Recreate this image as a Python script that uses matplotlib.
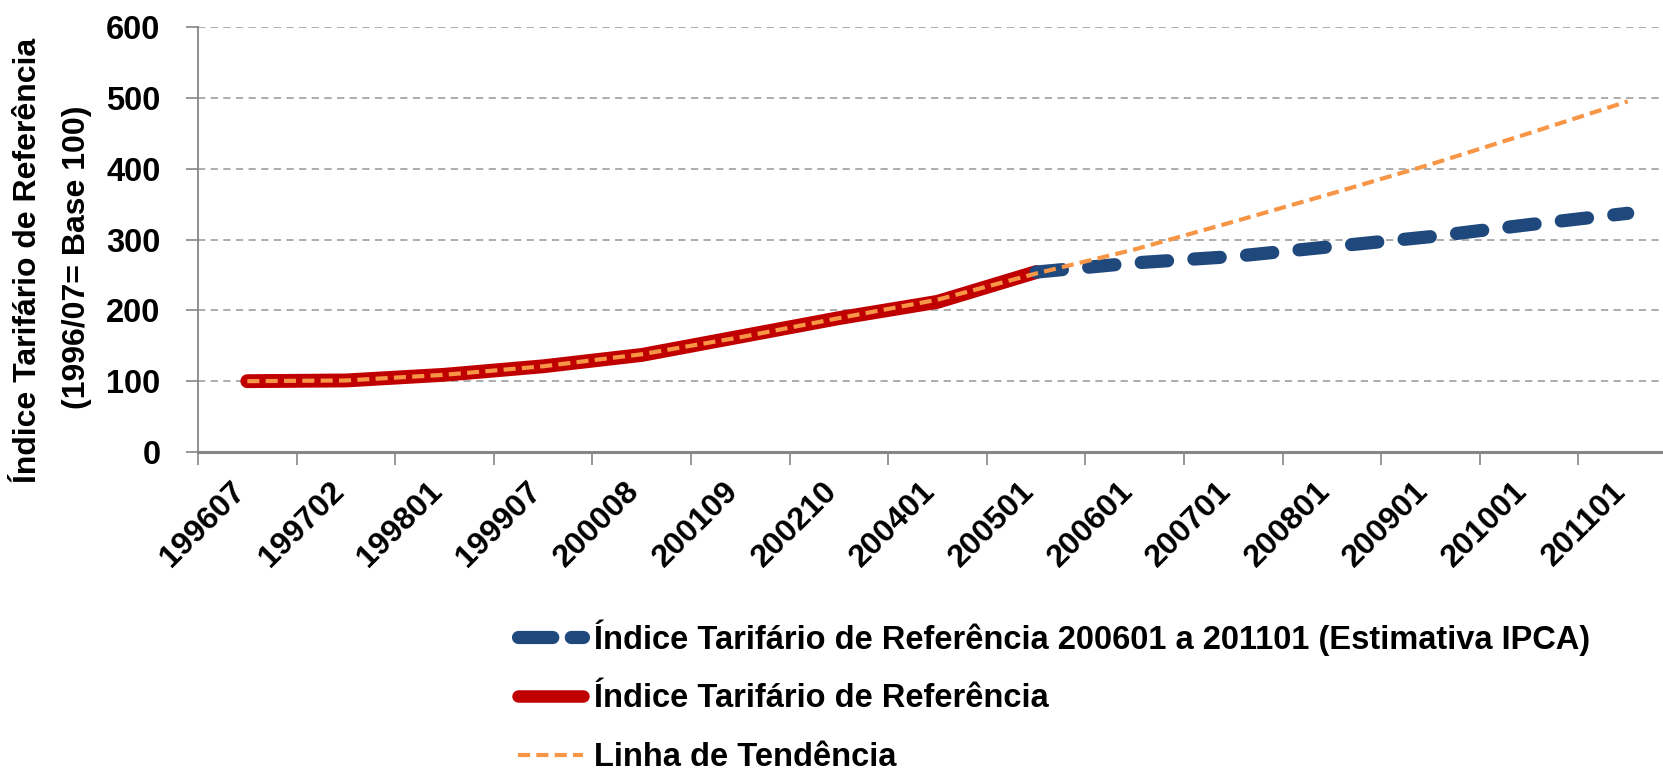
import matplotlib
matplotlib.use("Agg")
import matplotlib.pyplot as plt
from matplotlib.lines import Line2D
from matplotlib.ticker import FixedLocator, NullFormatter

plt.rcParams['font.family'] = ['Liberation Sans', 'DejaVu Sans']

categories = ["199607", "199702", "199801", "199907", "200008", "200109", "200210",
              "200401", "200501", "200601", "200701", "200801", "200901", "201001", "201101"]
indice_ref = [100, 101, 109, 121, 137, 163, 189, 212, 254]
indice_est = [254, 267, 276, 290, 304, 321, 337]
tendencia = [100, 101, 109, 121, 138, 162, 189, 215, 252, 286, 325, 365, 406, 450, 495]
yticks = [0, 100, 200, 300, 400, 500, 600]

label_est = "Índice Tarifário de Referência 200601 a 201101 (Estimativa IPCA)"
label_ref = "Índice Tarifário de Referência"
label_tend = "Linha de Tendência"
ylabel_1 = "Índice Tarifário de Referência"
ylabel_2 = "(1996/07= Base 100)"

C_RED = "#C00000"
C_BLUE = "#1F497D"
C_ORANGE = "#F79646"
C_GRID = "#A6A6A6"
C_AXIS = "#868686"

W, H = 1663, 768
fig = plt.figure(figsize=(W / 100, H / 100), dpi=100)
ax = fig.add_axes([198 / W, 1 - 452 / H, (1677 - 198) / W, (452 - 27) / H])

x_ref = list(range(len(indice_ref)))
x_est = list(range(len(indice_ref) - 1, len(indice_ref) - 1 + len(indice_est)))
x_all = list(range(len(categories)))

ax.plot(x_ref, indice_ref, color=C_RED, lw=10, solid_capstyle='round',
        solid_joinstyle='round', zorder=3)
ax.plot(x_est, indice_est, color=C_BLUE, lw=9.5, dashes=(2.0, 2.0),
        dash_capstyle='round', zorder=3)
ax.plot(x_all, tendencia, color=C_ORANGE, lw=3, dashes=(2.9, 1.5),
        dash_capstyle='butt', zorder=4)

ax.set_xlim(-0.5, len(categories) - 0.5)
ax.set_ylim(0, 600)
ax.set_yticks(yticks)
ax.set_yticklabels([str(v) for v in yticks], fontsize=23.5, fontweight='bold')
ax.yaxis.grid(True, color=C_GRID, lw=1.3, dashes=(4, 3))
ax.set_axisbelow(True)

ax.xaxis.set_major_locator(FixedLocator([i - 0.5 for i in range(len(categories) + 1)]))
ax.xaxis.set_major_formatter(NullFormatter())
ax.tick_params(axis='x', length=9, width=1.2, color=C_AXIS, direction='out')
ax.tick_params(axis='y', length=9, width=1.2, color=C_AXIS, direction='out', pad=18)

for i, lab in enumerate(categories):
    ax.annotate(lab, xy=(i, 0), xycoords=('data', 'axes fraction'),
                xytext=(-17, -24), textcoords='offset pixels',
                rotation=45, ha='right', va='top', rotation_mode='anchor',
                fontsize=23, fontweight='bold')

for s in ['top', 'right']:
    ax.spines[s].set_visible(False)
ax.spines['left'].set_color(C_AXIS)
ax.spines['left'].set_linewidth(1.3)
ax.spines['bottom'].set_color(C_AXIS)
ax.spines['bottom'].set_linewidth(2.2)

fig.text(28 / W, 1 - 260 / H, ylabel_1, rotation=90,
         ha='center', va='center', fontsize=23, fontweight='bold')
fig.text(77 / W, 1 - 257 / H, ylabel_2, rotation=90,
         ha='center', va='center', fontsize=23, fontweight='bold')

handles = [
    Line2D([], [], color=C_BLUE, lw=9.5, dashes=(2.6, 1.4), dash_capstyle='round'),
    Line2D([], [], color=C_RED, lw=9, solid_capstyle='round'),
    Line2D([], [], color=C_ORANGE, lw=3, dashes=(2.9, 1.5)),
]
leg = fig.legend(handles, [label_est, label_ref, label_tend],
                 loc='upper left', bbox_to_anchor=(518 / W, 1 - 619 / H),
                 frameon=False, handlelength=1.98, handletextpad=0.35,
                 labelspacing=0.85, borderaxespad=0, borderpad=0,
                 prop={'size': 23.5, 'weight': 'bold'})

fig.savefig("out.png", dpi=100)
